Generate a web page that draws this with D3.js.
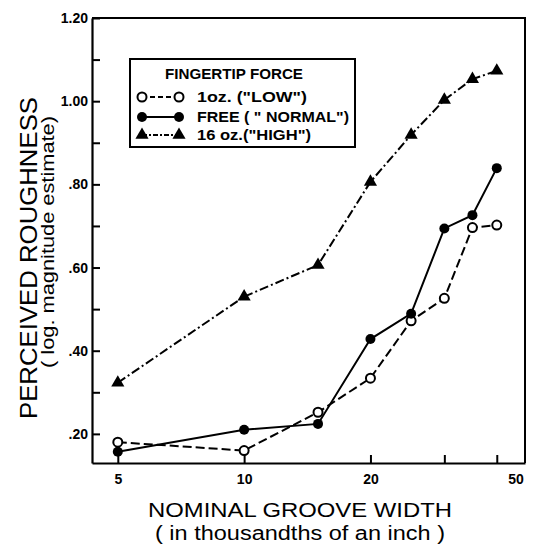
<!DOCTYPE html>
<html><head><meta charset="utf-8">
<script src="https://cdn.jsdelivr.net/npm/d3@7"></script>
<style>
body{margin:0;background:#fff}
svg text{font-family:"Liberation Sans",Arial,sans-serif;fill:#000}
</style>
</head><body>
<svg id="chart" width="536" height="548"></svg>
<script>
// ---- data ----
const grooveWidths = [5, 10, 15, 20, 25, 30, 35, 40];
const lowForce    = [0.180, 0.160, 0.252, 0.334, 0.472, 0.526, 0.696, 0.702];
const normalForce = [0.157, 0.210, 0.224, 0.428, 0.489, 0.694, 0.726, 0.839];
const highForce   = [0.323, 0.530, 0.606, 0.806, 0.919, 1.003, 1.053, 1.073];
const seriesLabels = ['1oz. ("LOW")', 'FREE ( " NORMAL")', '16 oz.("HIGH")'];
const legendTitle = "FINGERTIP FORCE";
const xTickValues = [5, 10, 20, 30, 40];
const xTickLabels = ["5", "10", "20", "", ""];
const xEndLabel = "50";
const yTickValues = [0.2, 0.3, 0.4, 0.5, 0.6, 0.7, 0.8, 0.9, 1.0, 1.1, 1.2];
const yTickLabels = [".20", "", ".40", "", ".60", "", ".80", "", "1.00", "", "1.20"];
const xTitle = ["NOMINAL GROOVE WIDTH", "( in thousandths of an inch )"];
const yTitle = ["PERCEIVED ROUGHNESS", "( log. magnitude estimate)"];

const svg = d3.select("#chart");
const L = 92, R = 525, T = 18, B = 463;
const x = d3.scaleLog().domain([4.34, 46.7]).range([L, R]);
const y = d3.scaleLinear().domain([0.13, 1.20]).range([B, T]);

// frame top/right
svg.append("path")
  .attr("d", `M${L},${T}H${R}V${B}`)
  .attr("fill", "none").attr("stroke", "#000").attr("stroke-width", 2);

// x axis
const xAxis = svg.append("g").attr("transform", `translate(0,${B})`)
  .call(d3.axisBottom(x).tickValues(xTickValues)
    .tickFormat((d, i) => xTickLabels[i]).tickSize(-8).tickSizeOuter(0).tickPadding(11));
xAxis.select(".domain").attr("stroke-width", 2.2);
xAxis.selectAll(".tick line").attr("stroke-width", 2);
xAxis.selectAll("text").attr("font-size", 14).attr("font-weight", "bold")
  .attr("font-family", '"Liberation Sans",Arial,sans-serif');
xAxis.append("text").attr("x", x(46.7) - 9).attr("y", 11).attr("dy", "0.71em")
  .attr("text-anchor", "middle").attr("font-size", 14).attr("font-weight", "bold")
  .attr("fill", "#000").text(xEndLabel);

// y axis
const yAxis = svg.append("g").attr("transform", `translate(${L},0)`)
  .call(d3.axisLeft(y).tickValues(yTickValues)
    .tickFormat((d, i) => yTickLabels[i]).tickSize(-8).tickSizeOuter(0).tickPadding(4));
yAxis.select(".domain").attr("stroke-width", 2.2);
yAxis.selectAll(".tick line").attr("stroke-width", 2);
yAxis.selectAll("text").attr("font-size", 14).attr("font-weight", "bold")
  .attr("font-family", '"Liberation Sans",Arial,sans-serif');

// series
const series = [
  {vals: lowForce, dash: "9,4", marker: "open"},
  {vals: normalForce, dash: null, marker: "filled"},
  {vals: highForce, dash: "9,3,2,3", marker: "tri"}
];
const line = d3.line().x((d, i) => x(grooveWidths[i])).y(d => y(d));
function drawMarker(g, type, cx, cy) {
  if (type === "open") {
    g.append("circle").attr("cx", cx).attr("cy", cy).attr("r", 4.5)
      .attr("fill", "#fff").attr("stroke", "#000").attr("stroke-width", 2);
  } else if (type === "filled") {
    g.append("circle").attr("cx", cx).attr("cy", cy).attr("r", 5).attr("fill", "#000");
  } else {
    g.append("path").attr("d", d3.symbol(d3.symbolTriangle, 75)())
      .attr("transform", `translate(${cx},${cy})`).attr("fill", "#000");
  }
}
series.forEach(s => {
  svg.append("path").datum(s.vals).attr("d", line)
    .attr("fill", "none").attr("stroke", "#000").attr("stroke-width", 2)
    .attr("stroke-dasharray", s.dash);
});
series.forEach(s => {
  const g = svg.append("g");
  s.vals.forEach((v, i) => drawMarker(g, s.marker, x(grooveWidths[i]), y(v)));
});

// legend
const lg = svg.append("g");
lg.append("rect").attr("x", 130).attr("y", 59).attr("width", 225).attr("height", 88)
  .attr("fill", "#fff").attr("stroke", "#000").attr("stroke-width", 2);
lg.append("text").attr("x", 234).attr("y", 79).attr("text-anchor", "middle")
  .attr("font-size", 14).attr("font-weight", "bold")
  .attr("textLength", 138).attr("lengthAdjust", "spacingAndGlyphs").text(legendTitle);
const rowY = [97, 117, 135];
const rowLen = [110, 152, 114];
series.forEach((s, i) => {
  lg.append("line").attr("x1", 142).attr("x2", 179).attr("y1", rowY[i]).attr("y2", rowY[i])
    .attr("stroke", "#000").attr("stroke-width", 2)
    .attr("stroke-dasharray", s.dash ? (i === 0 ? "5,3" : "5,2,2,2") : null);
  drawMarker(lg, s.marker, 142, rowY[i]);
  drawMarker(lg, s.marker, 179, rowY[i]);
  lg.append("text").attr("x", 197).attr("y", rowY[i] + 5)
    .attr("font-size", 14).attr("font-weight", "bold")
    .attr("textLength", rowLen[i]).attr("lengthAdjust", "spacingAndGlyphs")
    .text(seriesLabels[i]);
});

// axis titles
svg.append("text").attr("x", 300).attr("y", 517).attr("text-anchor", "middle")
  .attr("font-size", 21).attr("textLength", 304).attr("lengthAdjust", "spacingAndGlyphs")
  .text(xTitle[0]);
svg.append("text").attr("x", 300).attr("y", 540).attr("text-anchor", "middle")
  .attr("font-size", 20).attr("textLength", 290).attr("lengthAdjust", "spacingAndGlyphs")
  .text(xTitle[1]);
svg.append("text").attr("transform", "translate(37,258) rotate(-90)")
  .attr("text-anchor", "middle").attr("font-size", 24)
  .attr("textLength", 322).attr("lengthAdjust", "spacingAndGlyphs").text(yTitle[0]);
svg.append("text").attr("transform", "translate(54,242) rotate(-90)")
  .attr("text-anchor", "middle").attr("font-size", 19)
  .attr("textLength", 252).attr("lengthAdjust", "spacingAndGlyphs").text(yTitle[1]);
</script>
</body></html>
